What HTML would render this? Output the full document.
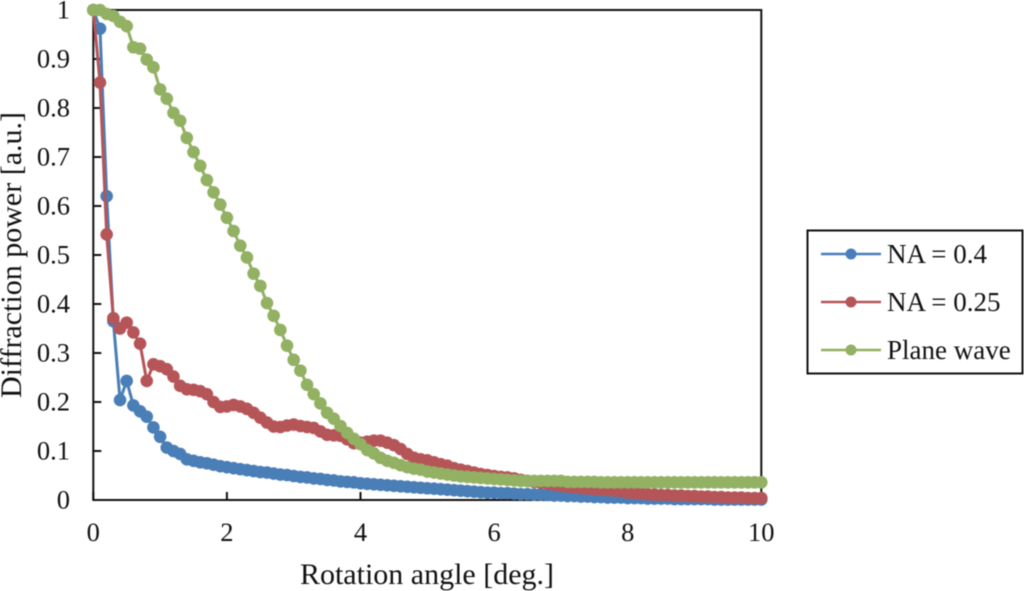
<!DOCTYPE html>
<html>
<head>
<meta charset="utf-8">
<title>Diffraction power vs rotation angle</title>
<style>
html,body{margin:0;padding:0;background:#fff;width:1024px;height:591px;overflow:hidden}
svg{display:block;filter:blur(0.45px)}
text{font-family:"Liberation Serif",serif;fill:#111}
</style>
</head>
<body>
<svg id="chart" width="1024" height="591" viewBox="0 0 1024 591">
  <g id="grid-layer"></g>
  <g id="ticks"></g>
  <g id="series"></g>
  <text x="427" y="584" font-size="30" text-anchor="middle">Rotation angle [deg.]</text>
  <text transform="translate(21,255) rotate(-90)" font-size="30" text-anchor="middle">Diffraction power [a.u.]</text>
  <g>
    <rect x="807.5" y="230.5" width="215" height="143" fill="#fff" stroke="#111" stroke-width="2"/>
    <g>
      <line x1="821" y1="254" x2="881" y2="254" stroke="#4A7EBB" stroke-width="2.5"/>
      <circle cx="851" cy="254" r="5.5" fill="#4A7EBB"/>
      <text x="887" y="263" font-size="27">NA = 0.4</text>
    </g>
    <g>
      <line x1="821" y1="302" x2="881" y2="302" stroke="#B55558" stroke-width="2.5"/>
      <circle cx="851" cy="302" r="5.5" fill="#B55558"/>
      <text x="887" y="311" font-size="27">NA = 0.25</text>
    </g>
    <g>
      <line x1="821" y1="350" x2="881" y2="350" stroke="#92B163" stroke-width="2.5"/>
      <circle cx="851" cy="350" r="5.5" fill="#92B163"/>
      <text x="887" y="359" font-size="27">Plane wave</text>
    </g>
  </g>
</svg>
<script>
const xTickLabels = ["0","2","4","6","8","10"];
const xTickValues = [0,2,4,6,8,10];
const yTickLabels = ["0","0.1","0.2","0.3","0.4","0.5","0.6","0.7","0.8","0.9","1"];
const yTickValues = [0,0.1,0.2,0.3,0.4,0.5,0.6,0.7,0.8,0.9,1];
const angles = [0,0.1,0.2,0.3,0.4,0.5,0.6,0.7,0.8,0.9,1,1.1,1.2,1.3,1.4,1.5,1.6,1.7,1.8,1.9,2,2.1,2.2,2.3,2.4,2.5,2.6,2.7,2.8,2.9,3,3.1,3.2,3.3,3.4,3.5,3.6,3.7,3.8,3.9,4,4.1,4.2,4.3,4.4,4.5,4.6,4.7,4.8,4.9,5,5.1,5.2,5.3,5.4,5.5,5.6,5.7,5.8,5.9,6,6.1,6.2,6.3,6.4,6.5,6.6,6.7,6.8,6.9,7,7.1,7.2,7.3,7.4,7.5,7.6,7.7,7.8,7.9,8,8.1,8.2,8.3,8.4,8.5,8.6,8.7,8.8,8.9,9,9.1,9.2,9.3,9.4,9.5,9.6,9.7,9.8,9.9,10];
const na04 = [1,.962,.62,.365,.204,.243,.193,.181,.17,.148,.129,.107,.1,.094,.083,.08,.077,.075,.072,.069,.067,.065,.063,.061,.059,.057,.056,.054,.052,.051,.049,.047,.046,.044,.043,.041,.04,.038,.037,.036,.034,.033,.032,.031,.03,.029,.028,.027,.026,.025,.024,.023,.022,.021,.02,.019,.018,.017,.016,.015,.015,.014,.014,.013,.012,.012,.011,.011,.01,.009,.009,.008,.008,.007,.007,.006,.006,.005,.005,.005,.004,.004,.004,.003,.003,.003,.003,.002,.002,.002,.002,.002,.002,.001,.001,.001,.001,.001,.001,.001,.001];
const na025 = [1,.852,.542,.371,.35,.362,.342,.319,.243,.277,.273,.267,.252,.233,.226,.225,.222,.216,.2,.19,.191,.194,.191,.186,.178,.168,.158,.15,.149,.152,.154,.151,.149,.147,.14,.133,.132,.131,.124,.116,.117,.119,.121,.121,.117,.112,.104,.094,.086,.083,.081,.077,.073,.07,.065,.062,.059,.056,.053,.051,.049,.047,.046,.044,.041,.039,.037,.035,.033,.031,.029,.027,.026,.024,.023,.022,.021,.02,.019,.018,.015,.014,.013,.012,.011,.01,.01,.009,.009,.008,.008,.007,.007,.006,.006,.005,.005,.005,.004,.004,.004];
const planeWave = [1,1,.992,.988,.976,.967,.924,.921,.899,.883,.838,.819,.79,.774,.739,.71,.682,.653,.628,.603,.576,.549,.519,.495,.462,.437,.402,.376,.347,.315,.286,.264,.235,.216,.197,.178,.166,.151,.137,.125,.114,.102,.095,.086,.08,.076,.071,.067,.064,.062,.058,.056,.054,.052,.05,.048,.047,.046,.045,.044,.043,.042,.041,.04,.039,.039,.039,.039,.039,.039,.039,.037,.037,.037,.037,.037,.036,.036,.036,.036,.036,.036,.036,.036,.036,.036,.036,.036,.036,.036,.036,.036,.036,.036,.036,.036,.036,.036,.036,.036,.036];

const NS = "http://www.w3.org/2000/svg";
const xAxis = v => 93.3 + v * 66.8;
const yAxis = v => 500 - v * 490;

function svgEl(tag, attrs, parent) {
  const el = document.createElementNS(NS, tag);
  Object.keys(attrs).forEach(k => el.setAttribute(k, attrs[k]));
  parent.appendChild(el);
  return el;
}

const gridLayer = document.getElementById("grid-layer");
const frame = svgEl("rect", {x: xAxis(0), y: yAxis(1), width: xAxis(10) - xAxis(0), height: yAxis(0) - yAxis(1), fill: "#fff", stroke: "#111", "stroke-width": 2}, gridLayer);



const ticks = document.getElementById("ticks");
xTickValues.forEach((v, i) => {
  const t = svgEl("line", {x1: xAxis(v), x2: xAxis(v), y1: yAxis(0), y2: yAxis(0) - 8, stroke: "#111", "stroke-width": 2}, ticks);
  
  
  const l = svgEl("text", {x: xAxis(v), y: 541, "font-size": 26.5, "text-anchor": "middle"}, ticks);
  l.textContent = xTickLabels[i];
  
  
});
yTickValues.forEach((v, i) => {
  const t = svgEl("line", {x1: xAxis(0), x2: xAxis(0) + 8, y1: yAxis(v), y2: yAxis(v), stroke: "#111", "stroke-width": 2}, ticks);
  
  
  const l = svgEl("text", {x: 70, y: yAxis(v) + 8.5, "font-size": 26.5, "text-anchor": "end"}, ticks);
  l.textContent = yTickLabels[i];
  
  
});

function drawSeries(values, color, name) {
  const layer = document.getElementById("series");
  const g = svgEl("g", {}, layer);
  
  
  const pts = values.map((v, i) => xAxis(angles[i]).toFixed(2) + "," + yAxis(v).toFixed(2)).join(" ");
  const line = svgEl("polyline", {points: pts, fill: "none", stroke: color, "stroke-width": 3, "stroke-linejoin": "round"}, g);
  
  
  values.forEach((v, i) => {
    const c = svgEl("circle", {cx: xAxis(angles[i]), cy: yAxis(v), r: 6.3, fill: color}, g);
    
    
  });
}
drawSeries(na04, "#4A7EB6", "series-na-0-4");
drawSeries(na025, "#B55558", "series-na-0-25");
drawSeries(planeWave, "#92B163", "series-plane-wave");
</script>
</body>
</html>
